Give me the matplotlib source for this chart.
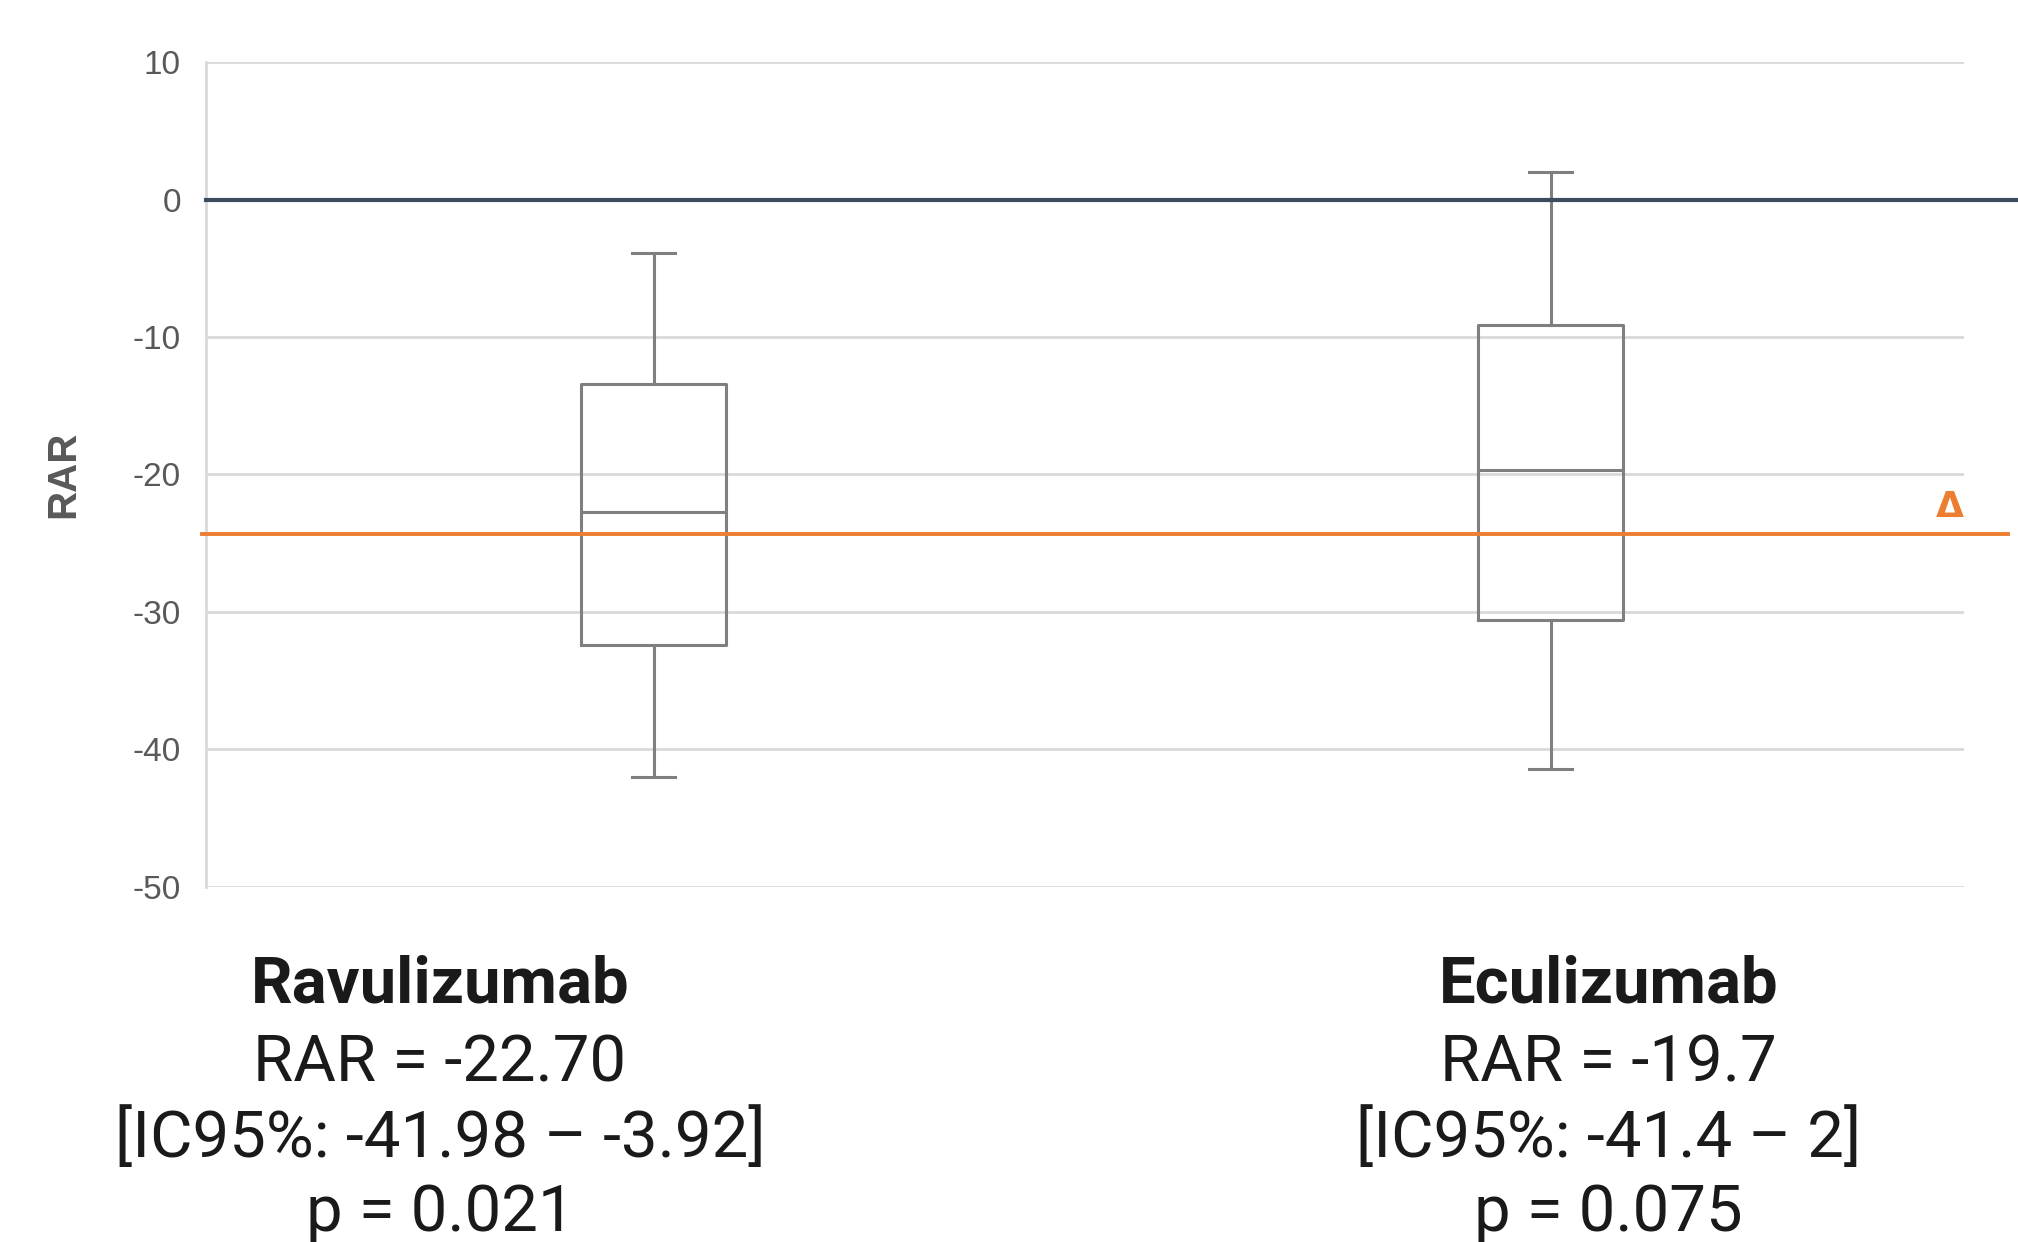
import matplotlib.pyplot as plt
import numpy as np

plt.rcParams['axes.unicode_minus'] = False

# ---- data ----
drugs = ['Ravulizumab', 'Eculizumab']
rar = ['-22.70', '-19.7']
ic95 = ['[IC95%: -41.98 – -3.92]', '[IC95%: -41.4 – 2]']
pvals = ['p = 0.021', 'p = 0.075']

whis_low = [-41.98, -41.4]
q1 = [-32.4, -30.6]
median = [-22.70, -19.7]
q3 = [-13.4, -9.1]
whis_high = [-3.92, 2.0]

delta_line = -24.3
zero_line = 0
yticks = [10, 0, -10, -20, -30, -40, -50]

gray_txt = '#595959'
grid_c = '#d9d9d9'
box_c = '#7f7f7f'
orange = '#ed7d31'
navy = '#3d4b5f'

fig = plt.figure(figsize=(20.18, 12.42), dpi=100)
ax = fig.add_axes([0.102, 0.286, 0.871, 0.664])

stats = []
for i in range(len(drugs)):
    stats.append(dict(whislo=whis_low[i], q1=q1[i], med=median[i],
                      q3=q3[i], whishi=whis_high[i], fliers=[]))

line_kw = dict(color=box_c, linewidth=2.2)
ax.bxp(stats, positions=[1, 2], widths=0.162, capwidths=0.048,
       showfliers=False, patch_artist=False,
       boxprops=line_kw, whiskerprops=line_kw, capprops=line_kw,
       medianprops=line_kw)

ax.set_xlim(0.501, 2.46)
ax.set_ylim(-50, 10)
ax.set_yticks(yticks)
ax.set_xticks([])
ax.grid(axis='y', color=grid_c, linewidth=2)
ax.set_axisbelow(True)
for s in ['top', 'right', 'bottom']:
    ax.spines[s].set_visible(False)
ax.spines['left'].set_color(grid_c)
ax.spines['left'].set_linewidth(2)
ax.tick_params(axis='y', length=0, labelsize=24, labelcolor=gray_txt, pad=18)
for lab in ax.get_yticklabels():
    lab.set_family('Liberation Sans')

# reference lines (run past the plot area as in the original)
ax.plot([0.501, 2.6], [zero_line, zero_line], color=navy, linewidth=3,
        clip_on=False, zorder=3)
ax.plot([0.497, 2.51], [delta_line, delta_line], color=orange, linewidth=2.8,
        clip_on=False, zorder=3)
ax.text(2.445, delta_line + 0.7, 'Δ', color=orange, fontsize=26,
        fontweight='bold', ha='center', va='bottom', family='DejaVu Sans')

ax.set_ylabel('RAR', fontsize=29, fontweight='bold', color=gray_txt,
              family='Liberation Sans', labelpad=36)

# annotation blocks under each box
xs = [0.218, 0.797]
for i in range(len(drugs)):
    fig.text(xs[i], 0.207, drugs[i], ha='center', va='center',
             fontsize=47, fontweight='bold', family='Roboto', color='#1a1a1a')
    fig.text(xs[i], 0.144, 'RAR = ' + rar[i], ha='center', va='center',
             fontsize=47, family='Roboto', color='#1a1a1a')
    fig.text(xs[i], 0.083, ic95[i], ha='center', va='center',
             fontsize=47, family='Roboto', color='#1a1a1a')
    fig.text(xs[i], 0.023, pvals[i], ha='center', va='center',
             fontsize=47, family='Roboto', color='#1a1a1a')

fig.savefig('out.png', dpi=100)
